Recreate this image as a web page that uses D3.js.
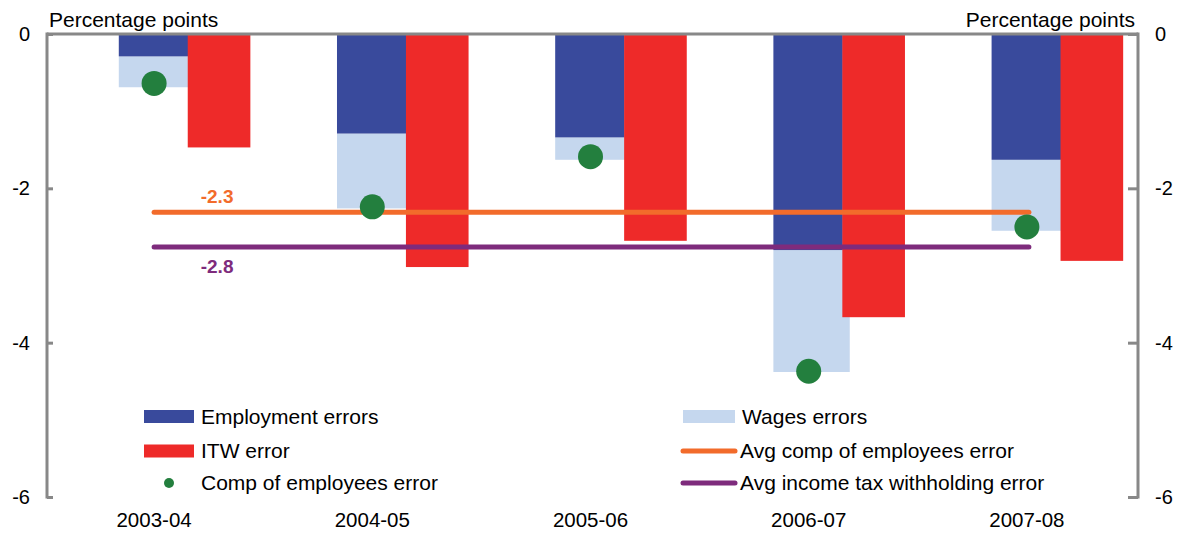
<!DOCTYPE html>
<html><head><meta charset="utf-8">
<script src="https://cdn.jsdelivr.net/npm/d3@7"></script>
<style>body{margin:0;background:#fff}svg{display:block;font-family:"Liberation Sans",Arial,sans-serif}</style>
</head><body><svg id="c" width="1181" height="534"></svg>
<script>
const categories = ["2003-04","2004-05","2005-06","2006-07","2007-08"];
const employmentErrors = [-0.29,-1.29,-1.34,-2.80,-1.63];
const wagesErrors = [-0.40,-0.97,-0.29,-1.58,-0.92];
const itwError = [-1.47,-3.02,-2.68,-3.67,-2.94];
const compError = [-0.64,-2.24,-1.59,-4.37,-2.50];
const avgCompError = -2.31;
const avgItwError = -2.76;
const yTicks = [0,-2,-4,-6];

const C = {emp:"#394A9C", wages:"#C5D7EE", itw:"#EE2A29", comp:"#237F3E", avgComp:"#F26B2B", avgItw:"#7E2B7C", axis:"#888888"};

const svg = d3.select("#c");
const L=47, R=1138, T=34, B=497;
const x = d3.scaleBand().domain(categories).range([L,R]).padding(0);
const y = d3.scaleLinear().domain([-6,0]).range([B,T]);
const bw = x.bandwidth();
const fmt = v => d3.format(".1f")(v).replace("\u2212","-");

// bars
const g = svg.append("g");
categories.forEach((c,i)=>{
  const x0 = x(c);
  const e = employmentErrors[i], w = wagesErrors[i];
  g.append("rect").attr("x", x0+bw*0.329).attr("width", bw*0.35)
    .attr("y", y(e)).attr("height", y(e+w)-y(e)).attr("fill", C.wages);
  g.append("rect").attr("x", x0+bw*0.329).attr("width", bw*0.318)
    .attr("y", y(0)).attr("height", y(e)-y(0)).attr("fill", C.emp);
  g.append("rect").attr("x", x0+bw*0.645).attr("width", bw*0.287)
    .attr("y", y(0)).attr("height", y(itwError[i])-y(0)).attr("fill", C.itw);
});

// avg lines
const xs = x(categories[0])+bw/2-2, xe = x(categories[categories.length-1])+bw/2;
[[avgCompError,C.avgComp],[avgItwError,C.avgItw]].forEach(([v,col])=>{
  svg.append("line").attr("x1",xs).attr("x2",xe).attr("y1",y(v)).attr("y2",y(v))
    .attr("stroke",col).attr("stroke-width",5).attr("stroke-linecap","round");
});
svg.append("text").attr("x", xs+63).attr("y", y(avgCompError)-9).attr("text-anchor","middle")
  .attr("font-size",19).attr("font-weight","bold").attr("fill",C.avgComp).text(fmt(avgCompError));
svg.append("text").attr("x", xs+63).attr("y", y(avgItwError)+26).attr("text-anchor","middle")
  .attr("font-size",19).attr("font-weight","bold").attr("fill",C.avgItw).text(fmt(avgItwError));

// dots
svg.append("g").selectAll("circle").data(compError).join("circle")
  .attr("cx",(d,i)=>x(categories[i])+bw/2-2).attr("cy",d=>y(d)).attr("r",12.5).attr("fill",C.comp);

// axes frame
svg.append("line").attr("x1",L).attr("x2",R).attr("y1",y(0)).attr("y2",y(0)).attr("stroke",C.axis).attr("stroke-width",3);
svg.append("line").attr("x1",L).attr("x2",L).attr("y1",T-1.5).attr("y2",B+1.5).attr("stroke",C.axis).attr("stroke-width",3);
svg.append("line").attr("x1",R).attr("x2",R).attr("y1",T-1.5).attr("y2",B+1.5).attr("stroke",C.axis).attr("stroke-width",3);

const left = svg.append("g").attr("transform",`translate(${L},0)`)
  .call(d3.axisRight(y).tickValues(yTicks).tickSize(6).tickFormat(""));
left.select(".domain").remove();
left.selectAll("line").attr("stroke",C.axis).attr("stroke-width",3);
const right = svg.append("g").attr("transform",`translate(${R},0)`)
  .call(d3.axisLeft(y).tickValues(yTicks).tickSize(10).tickFormat(""));
right.select(".domain").remove();
right.selectAll("line").attr("stroke",C.axis).attr("stroke-width",3);

svg.append("g").selectAll("text").data(yTicks).join("text")
  .attr("x",30).attr("y",d=>y(d)+7).attr("text-anchor","end").attr("font-size",20).text(d=>d);
svg.append("g").selectAll("text").data(yTicks).join("text")
  .attr("x",1155).attr("y",d=>y(d)+7).attr("text-anchor","start").attr("font-size",20).text(d=>d);

svg.append("text").attr("x",49).attr("y",27).attr("font-size",21).text("Percentage points");
svg.append("text").attr("x",1135).attr("y",27).attr("font-size",21).attr("text-anchor","end").text("Percentage points");

svg.append("g").selectAll("text").data(categories).join("text")
  .attr("x",c=>x(c)+bw/2-2).attr("y",527).attr("text-anchor","middle").attr("font-size",20.5).text(c=>c);

// legend
const leg = svg.append("g").attr("font-size",21);
const rowsY = [416.5, 451, 483];
function rectItem(x0,w,row,col,label){
  leg.append("rect").attr("x",x0).attr("y",rowsY[row]-6.5).attr("width",w).attr("height",13).attr("fill",col);
  leg.append("text").attr("x",x0+w+7).attr("y",rowsY[row]+7).text(label);
}
function lineItem(x0,w,row,col,label){
  leg.append("line").attr("x1",x0+2).attr("x2",x0+w-2).attr("y1",rowsY[row]).attr("y2",rowsY[row])
    .attr("stroke",col).attr("stroke-width",5).attr("stroke-linecap","round");
  leg.append("text").attr("x",x0+w+3).attr("y",rowsY[row]+7).text(label);
}
rectItem(144,50,0,C.emp,"Employment errors");
rectItem(144,50,1,C.itw,"ITW error");
leg.append("circle").attr("cx",169).attr("cy",rowsY[2]).attr("r",5).attr("fill",C.comp);
leg.append("text").attr("x",201).attr("y",rowsY[2]+7).text("Comp of employees error");
rectItem(683,52,0,C.wages,"Wages errors");
lineItem(681,56,1,C.avgComp,"Avg comp of employees error");
lineItem(681,56,2,C.avgItw,"Avg income tax withholding error");
</script></body></html>
